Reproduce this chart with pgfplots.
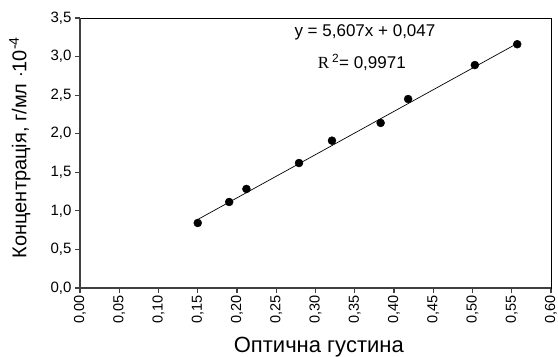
\documentclass[border=0pt]{standalone}
\usepackage{pgfplots}
\pgfplotsset{compat=1.18}
\usepackage{fontspec}
\setmainfont{Liberation Sans}
\newfontfamily\serif{Liberation Serif}
\begin{document}
\begin{tikzpicture}
\begin{axis}[
  scale only axis,
  width=471bp, height=270bp,
  xmin=0, xmax=0.6, ymin=0, ymax=3.5,
  xtick={0,0.05,...,0.6},
  ytick={0,0.5,...,3.5},
  xtick pos=bottom, ytick pos=left,
  tick align=outside,
  major tick length=5bp,
  tick style={line width=1.2pt, color=black!75},
  axis line style={line width=0.6pt},
  /pgf/number format/assume math mode=true,
  xticklabel style={rotate=90, anchor=east, font=\fontsize{14.5bp}{15bp}\selectfont, inner sep=2bp,
    /pgf/number format/.cd, fixed, fixed zerofill, precision=2, use comma},
  yticklabel style={font=\fontsize{15bp}{16bp}\selectfont,
    /pgf/number format/.cd, fixed, fixed zerofill, precision=1, use comma},
  xlabel={Оптична густина},
  ylabel={Концентрація, г/мл $\cdot$10\textsuperscript{-4}},
  ylabel style={font=\fontsize{20bp}{22bp}\selectfont, at={(axis description cs:-0.1274,0.52)}, anchor=center},
  xlabel style={font=\fontsize{22bp}{24bp}\selectfont, at={(axis description cs:0.507,-0.2185)}, anchor=center},
  clip=false,
]
\coordinate (ll) at (rel axis cs:0,0);
\addplot[black, line width=0.7pt, no marks] coordinates {(0.150,0.888) (0.557,3.170)};
\addplot[only marks, mark=*, mark size=4bp, black] coordinates {
(0.150,0.843) (0.190,1.115) (0.212,1.284) (0.279,1.62) (0.321,1.91)
(0.383,2.14) (0.418,2.45) (0.503,2.89) (0.557,3.16)};
\draw[black!75, line width=1.5pt] (rel axis cs:0,1) -- (rel axis cs:0,0) -- (rel axis cs:1,0);
\node[font=\fontsize{17bp}{18bp}\selectfont] at (axis cs:0.363,3.31) {y = 5,607x + 0,047};
\node[font=\fontsize{17bp}{18bp}\selectfont] at (axis cs:0.359,2.92) {{\serif R}\,\textsuperscript{2}= 0,9971};
\end{axis}
\pgfresetboundingbox
\path ([shift={(-80bp,-69bp)}]ll) rectangle ([shift={(478bp,288bp)}]ll);
\end{tikzpicture}
\end{document}
